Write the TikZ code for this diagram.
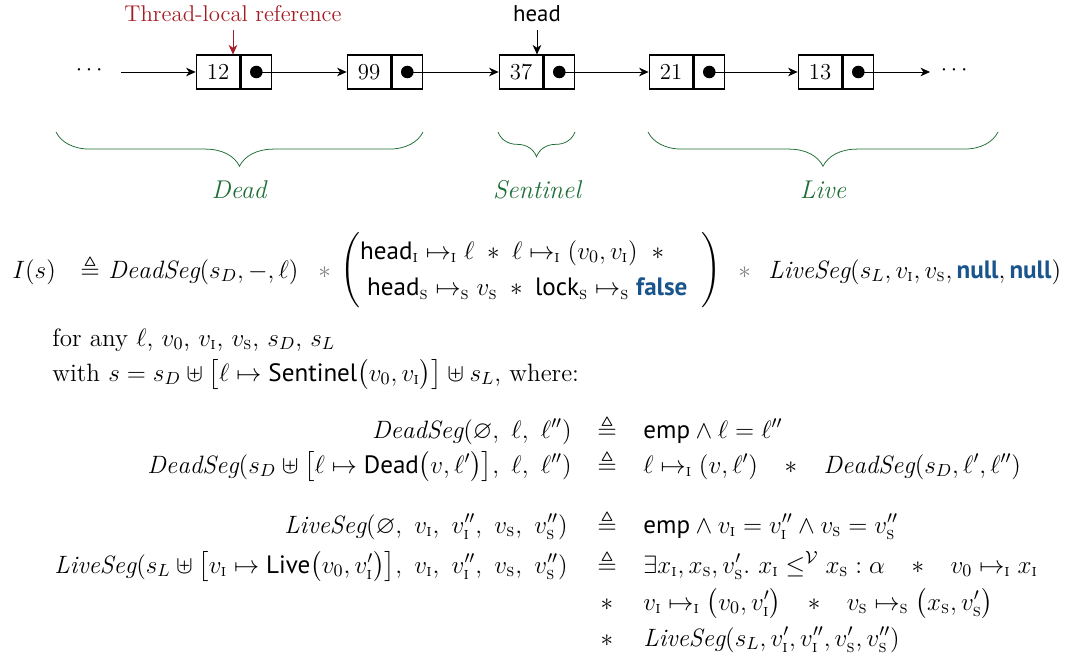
\RequirePackage{fix-cm}
\documentclass[12pt,tikz,border=0pt]{standalone}
\usepackage{amsmath,amssymb}
\usepackage{fontspec}
\setsansfont{PT Sans}
\usetikzlibrary{positioning,arrows.meta,decorations.pathreplacing}

\definecolor{tlred}{RGB}{163,30,36}
\definecolor{segreen}{RGB}{30,110,55}
\definecolor{kwblue}{RGB}{25,85,140}

\newcommand{\subI}{\text{\textsc{i}}}
\newcommand{\subS}{\text{\textsc{s}}}
\newcommand{\kwfalse}{\textcolor{kwblue}{\textsf{\textbf{false}}}}
\newcommand{\kwnull}{\textcolor{kwblue}{\textsf{\textbf{null}}}}
\newcommand{\wdstar}{\;\;\;\ast\;\;\;}

\tikzset{
    valcell/.style={draw, thick, minimum width=0.8cm, minimum height=0.62cm, inner sep=0pt},
    ptrcell/.style={draw, thick, minimum width=0.56cm, minimum height=0.62cm, inner sep=0pt},
    link/.style={-{Stealth[length=5pt,width=4.5pt,inset=1.5pt]}},
    segbrace/.style={draw=segreen, decorate, decoration={brace, mirror, amplitude=#1}},
    seglabel/.style={text=segreen, font=\fontsize{13.5}{16}\selectfont\itshape},
    formula/.style={inner sep=0pt, anchor=base west, font=\fontsize{13.2}{16}\selectfont},
}

\begin{document}
\begin{tikzpicture}[x=0.0185cm, y=-0.0185cm]
    \useasboundingbox (0,0) rectangle (1079,662);

    % the list
    \node[valcell, name=v1] at (218,72) {12};
    \node[ptrcell, right=0pt of v1, name=p1] {};
    \node[valcell, name=v2] at (369,72) {99};
    \node[ptrcell, right=0pt of v2, name=p2] {};
    \node[valcell, name=v3] at (521,72) {37};
    \node[ptrcell, right=0pt of v3, name=p3] {};
    \node[valcell, name=v4] at (671,72) {21};
    \node[ptrcell, right=0pt of v4, name=p4] {};
    \node[valcell, name=v5] at (820,72) {13};
    \node[ptrcell, right=0pt of v5, name=p5] {};

    \foreach \p in {p1,p2,p3,p4,p5}
        \fill (\p.center) circle (3.3pt);

    \node[name=ldots] at (91,70) {$\cdots$};
    \node[name=rdots] at (956,70) {$\cdots$};
    \coordinate (lin) at (121,72);
    \coordinate (rout) at (930,72);

    \draw[link] (lin) -- (v1.west);
    \draw[link] (p1.center) -- (v2.west);
    \draw[link] (p2.center) -- (v3.west);
    \draw[link] (p3.center) -- (v4.west);
    \draw[link] (p4.center) -- (v5.west);
    \draw[link] (p5.center) -- (rout);

    % pointers from above
    \node[text=tlred, name=tlref] at (233,14) {Thread-local reference};
    \node[font=\sffamily, name=hd] at (537,14) {head};
    \draw[link, tlred] (tlref.south) -- (tlref.south |- v1.north);
    \draw[link] (hd.south) -- (hd.south |- v3.north);

    % segments
    \draw[segbrace=18pt] (56,132) -- (423,132);
    \draw[segbrace=13pt] (498,132) -- (575,132);
    \draw[segbrace=18pt] (648,132) -- (998,132);
    \node[seglabel, name=dead] at (239,190) {Dead};
    \node[seglabel, name=sentinel] at (537,190) {Sentinel};
    \node[seglabel, name=live] at (823,190) {Live};

    % invariant
    \node[formula, name=inv] at (12,278) {$I(s)$};
    \node[formula, name=invdef] at (80,278) {$\triangleq$};
    \node[formula, name=invdead] at (108,278) {$\mathit{DeadSeg}(s_D, -, \ell)$};
    \node[formula, text=gray, name=star1] at (318,278) {$\ast$};
    \node[formula, anchor=west, name=invmid] at (340,270) {$\left(\def\arraystretch{1.2}\begin{array}{@{}l@{}}
        \textsf{head}_{\subI} \mapsto_{\subI} \ell \;\ast\; \ell \mapsto_{\subI} (v_0, v_{\subI}) \;\;\ast \\
        \;\textsf{head}_{\subS} \mapsto_{\subS} v_{\subS} \;\ast\; \textsf{lock}_{\subS} \mapsto_{\subS} \kwfalse
        \end{array}\;\;\vphantom{\Bigg(}\right)$};
    \node[formula, text=gray, name=star2] at (738,278) {$\ast$};
    \node[formula, name=invlive] at (768,278) {$\mathit{LiveSeg}(s_L, v_{\subI}, v_{\subS}, \kwnull, \kwnull)$};

    \node[formula, name=forany] at (52,346) {for any $\ell$, $v_0$, $v_{\subI}$, $v_{\subS}$, $s_D$, $s_L$};
    \node[formula, name=with] at (52,381) {with $s = s_D \uplus \big[\ell \mapsto \textsf{Sentinel}\big(v_0, v_{\subI}\big)\big] \uplus s_L$, where:};

    % segment definitions
    \node[formula, anchor=base east, name=d1l] at (572,438) {$\mathit{DeadSeg}(\varnothing,\ \ell,\ \ell'')$};
    \node[formula, anchor=base, name=d1e] at (607,438) {$\triangleq$};
    \node[formula, name=d1r] at (643,438) {$\textsf{emp} \wedge \ell = \ell''$};

    \node[formula, anchor=base east, name=d2l] at (572,473) {$\mathit{DeadSeg}(s_D \uplus \big[\ell \mapsto \textsf{Dead}\big(v, \ell'\big)\big],\ \ell,\ \ell'')$};
    \node[formula, anchor=base, name=d2e] at (607,473) {$\triangleq$};
    \node[formula, name=d2r] at (643,473) {$\ell \mapsto_{\subI} (v, \ell') \wdstar \mathit{DeadSeg}(s_D, \ell', \ell'')$};

    \node[formula, anchor=base east, name=l1l] at (568,533) {$\mathit{LiveSeg}(\varnothing,\ v_{\subI},\ v''_{\subI},\ v_{\subS},\ v''_{\subS})$};
    \node[formula, anchor=base, name=l1e] at (607,533) {$\triangleq$};
    \node[formula, name=l1r] at (643,533) {$\textsf{emp} \wedge v_{\subI} = v''_{\subI} \wedge v_{\subS} = v''_{\subS}$};

    \node[formula, anchor=base east, name=l2l] at (568,573) {$\mathit{LiveSeg}(s_L \uplus \big[v_{\subI} \mapsto \textsf{Live}\big(v_0, v'_{\subI}\big)\big],\ v_{\subI},\ v''_{\subI},\ v_{\subS},\ v''_{\subS})$};
    \node[formula, anchor=base, name=l2e] at (607,573) {$\triangleq$};
    \node[formula, name=l2r] at (643,573) {$\exists x_{\subI}, x_{\subS}, v'_{\subS}.\ x_{\subI} \leq^{\mathcal{V}} x_{\subS} : \alpha \wdstar v_0 \mapsto_{\subI} x_{\subI}$};

    \node[formula, anchor=base, name=l3e] at (607,610) {$\ast$};
    \node[formula, name=l3r] at (643,610) {$v_{\subI} \mapsto_{\subI} \big(v_0, v'_{\subI}\big) \wdstar v_{\subS} \mapsto_{\subS} \big(x_{\subS}, v'_{\subS}\big)$};

    \node[formula, anchor=base, name=l4e] at (607,646) {$\ast$};
    \node[formula, name=l4r] at (643,646) {$\mathit{LiveSeg}(s_L, v'_{\subI}, v''_{\subI}, v'_{\subS}, v''_{\subS})$};
\end{tikzpicture}
\end{document}
